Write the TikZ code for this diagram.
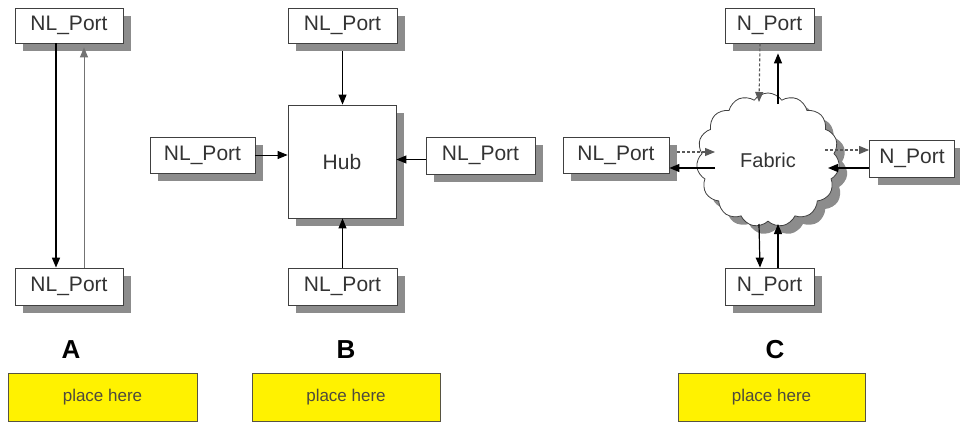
\documentclass[tikz,border=0pt]{standalone}
\usepackage{fontspec}
\setmainfont{Liberation Sans}
\usetikzlibrary{shapes.symbols,shadows,arrows.meta,calc}
\begin{document}
\begin{tikzpicture}[x=1pt,y=-1pt,
  portbox/.style={draw=black!75,line width=0.8pt,fill=white,inner sep=0pt,
    font=\fontsize{21}{24}\selectfont,text=black!80,
    drop shadow={shadow xshift=8pt,shadow yshift=-8pt,fill=black!45,opacity=1}},
  hubbox/.style={portbox},
  cloudnode/.style={cloud,cloud puffs=15,cloud puff arc=110,aspect=1.05,draw=black!75,line width=0.8pt,fill=white,inner sep=0pt,
    font=\fontsize{20}{24}\selectfont,text=black!80,
    drop shadow={shadow xshift=8pt,shadow yshift=-8pt,fill=black!45,opacity=1}},
  letter/.style={font=\fontsize{26}{30}\selectfont\bfseries},
  yelbox/.style={draw=black!60!yellow!60!black,line width=1pt,fill=yellow,inner sep=0pt,
    font=\fontsize{17}{20}\selectfont,text=black!80!yellow},
  arr/.style={-{Triangle[length=10pt,width=8pt]},line width=1.2pt,black},
  garr/.style={-{Triangle[length=10pt,width=8pt]},line width=1pt,black!55},
  darr/.style={-{Triangle[length=10pt,width=8pt]},line width=1.1pt,black!65,dash pattern=on 3pt off 2pt}
]
\useasboundingbox[fill=white] (0,0) rectangle (960,423);

% ---- A ----
\node[portbox,minimum width=108pt,minimum height=35pt] (atop) at (69,25.5) {NL\_Port};
\node[portbox,minimum width=108pt,minimum height=37pt] (abot) at (69,286.5) {NL\_Port};
\draw[arr,line width=1.6pt] ($(atop.south)+(-13,0)$) -- ($(abot.north)+(-13,0)$);
\draw[garr] ($(abot.north)+(15,0)$) -- ($(atop.south)+(15,4)$);
\node[letter] (la) at (71,350) {A};
\node[yelbox,minimum width=189pt,minimum height=48pt] (ya) at (102.5,397) {place here};

% ---- B ----
\node[hubbox,minimum width=108pt,minimum height=113pt] (hub) at (342,161.5) {Hub};
\node[portbox,minimum width=109pt,minimum height=35pt] (btop) at (342.5,25.5) {NL\_Port};
\node[portbox,minimum width=105pt,minimum height=36pt] (bleft) at (202.5,155) {NL\_Port};
\node[portbox,minimum width=109pt,minimum height=37pt] (bright) at (480.5,155.5) {NL\_Port};
\node[portbox,minimum width=109pt,minimum height=37pt] (bbot) at (342.5,286.5) {NL\_Port};
\draw[arr,line width=1pt] ($(btop.south)+(0,8)$) -- (btop.south |- hub.north);
\draw[arr,line width=1pt] (bbot.north) -- (bbot.north |- hub.south);
\draw[arr,line width=1pt] (bleft.east) -- (hub.west |- bleft.east);
\draw[arr,line width=1pt] ($(bright.west)+(0,4)$) -- ($(hub.east |- bright.west)+(0,4)$);
\node[letter] (lb) at (346,350) {B};
\node[yelbox,minimum width=188pt,minimum height=48pt] (yb) at (346,397) {place here};

% ---- C ----
\node[cloudnode,minimum width=143pt,minimum height=134pt] (fab) at (768,160) {Fabric};
\node[portbox,minimum width=89pt,minimum height=35pt] (ctop) at (769.5,25.5) {N\_Port};
\node[portbox,minimum width=106pt,minimum height=36pt] (cleft) at (616,155) {NL\_Port};
\node[portbox,minimum width=85pt,minimum height=37pt] (cright) at (912,158.5) {N\_Port};
\node[portbox,minimum width=89pt,minimum height=37pt] (cbot) at (769.5,286.5) {N\_Port};
\coordinate (ct1) at ($(fab.center)+(-9,-58)$);
\coordinate (ct2) at ($(fab.center)+(10,-56)$);
\coordinate (cb1) at ($(fab.center)+(-9,64)$);
\coordinate (cb2) at ($(fab.center)+(10,64)$);
\coordinate (cl1) at ($(fab.center)+(-53,-8)$);
\coordinate (cl2) at ($(fab.center)+(-53,8)$);
\coordinate (cr1) at ($(fab.center)+(57,-10)$);
\coordinate (cr2) at ($(fab.center)+(60,8)$);
\draw[darr] ($(ctop.south)+(-9.5,0)$) -- (ct1);
\draw[arr] (ct2) -- ($(ctop.south)+(8.5,10)$);
\draw[arr] (cb1) -- ($(cbot.north)+(-9.5,0)$);
\draw[arr] ($(cbot.north)+(8.5,0)$) -- (cb2);
\draw[darr] ($(cleft.east)+(8,-3)$) -- (cl1);
\draw[arr] (cl2) -- ($(cleft.east)+(0,13)$);
\draw[darr] (cr1) -- ($(cright.west)+(0,-8.5)$);
\draw[arr] ($(cright.west)+(0,9.5)$) -- (cr2);
\node[letter] (lc) at (775,350) {C};
\node[yelbox,minimum width=187pt,minimum height=48pt] (yc) at (771.5,397) {place here};
\end{tikzpicture}
\end{document}
